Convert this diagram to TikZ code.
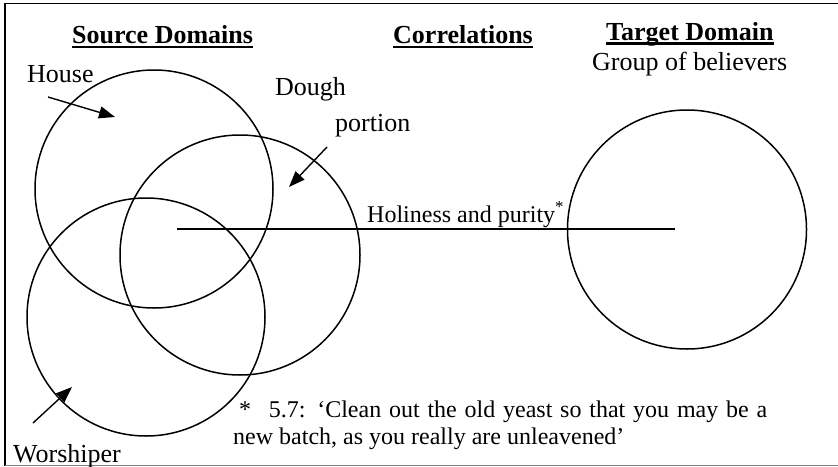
\documentclass[tikz,border=0pt]{standalone}
\usepackage{fontspec}
\setmainfont{Liberation Serif}
\usetikzlibrary{arrows.meta}

\tikzset{
  ring/.style={draw=black, line width=1.5pt},
  pointer/.style={draw=black, line width=1.4pt, -{Triangle[length=16pt,width=12pt]}},
  label/.style={inner sep=0pt, anchor=base west, font=\fontsize{26}{30}\selectfont},
  head/.style={inner sep=0pt, anchor=base west, font=\fontsize{26}{30}\selectfont\bfseries},
  small/.style={inner sep=0pt, anchor=base west, font=\fontsize{24}{27}\selectfont},
  uline/.style={draw=black, line width=2.3pt},
}

\begin{document}
\begin{tikzpicture}[x=1pt, y=-1pt]
  \useasboundingbox (0,0) rectangle (838,466);

  % frame
  \draw[black, line width=1.6pt] (4,3.6) -- (838,3.6);
  \draw[black, line width=1.8pt] (5.3,3) -- (5.3,466);
  \draw[black!50, line width=1pt] (5,465) -- (838,465);

  % column headings
  \node[head] (src) at (72,43) {Source Domains};
  \node[head] (cor) at (393,43) {Correlations};
  \node[head] (tgt) at (606,40) {Target Domain};
  \draw[uline] ([yshift=-4pt]src.base west) -- ([yshift=-4pt]src.base east);
  \draw[uline] ([yshift=-4pt]cor.base west) -- ([yshift=-4pt]cor.base east);
  \draw[uline] ([yshift=-3.5pt]tgt.base west) -- ([yshift=-3.5pt]tgt.base east);
  \node[label] (grp) at (592,70) {Group of believers};

  % source domain circles
  \draw[ring] (154,189) circle[radius=119pt];
  \draw[ring] (240,255) circle[radius=120pt];
  \draw[ring] (146,317) circle[radius=119pt];

  % target domain circle
  \draw[ring] (687,229.5) circle[radius=119.5pt];

  % correlation line
  \coordinate (cl) at (177,229);
  \coordinate (cr) at (675,229);
  \draw[black, line width=1.5pt] (cl) -- (cr);
  \node[small] (hp) at (367,222) {Holiness and purity\textsuperscript{*}};

  % domain labels with pointers
  \node[label] (house) at (27,82) {House};
  \node[label] (dough) at (275,95) {Dough};
  \node[label] (portion) at (335,131) {portion};
  \node[label] (wor) at (13,462) {Worshiper};

  \coordinate (h1) at (48,97);   \coordinate (h2) at (115,117);
  \coordinate (d1) at (327,147); \coordinate (d2) at (289,187);
  \coordinate (w1) at (33,423);  \coordinate (w2) at (72,387);
  \draw[pointer] (h1) -- (h2);
  \draw[pointer] (d1) -- (d2);
  \draw[pointer] (w1) -- (w2);

  % footnote
  \node[small] (fn1) at (239,417)
    {\makebox[528pt][s]{*\hspace{10pt} 5.7: ‘Clean out the old yeast so that you may be a}};
  \node[small] (fn2) at (233,444) {new batch, as you really are unleavened’};
\end{tikzpicture}
\end{document}
